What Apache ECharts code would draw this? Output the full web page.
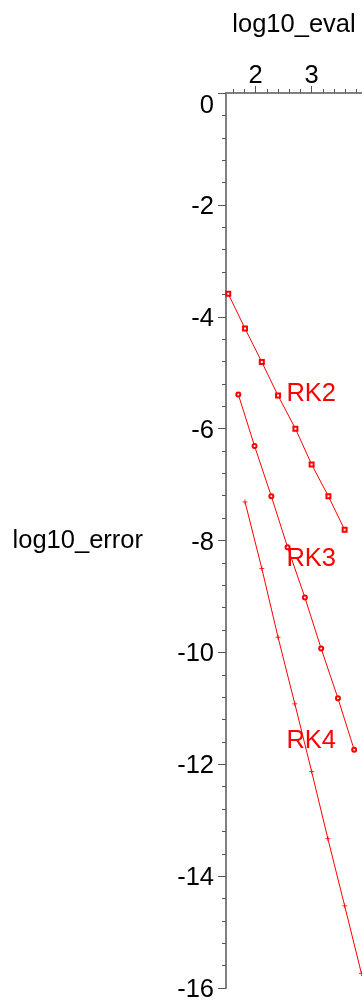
<!DOCTYPE html>
<html>
<head>
<meta charset="utf-8">
<style>
  html, body { margin: 0; padding: 0; background: #fff; }
  #chart { width: 362px; height: 1003px; }
</style>
<script src="https://cdn.jsdelivr.net/npm/echarts@6/dist/echarts.min.js"></script>
</head>
<body>
<div id="chart"></div>
<script>
// log10 of function evaluations vs log10 of error, one series per method
const rk2Eval = [1.51, 1.81, 2.11, 2.40, 2.71, 3.00, 3.30, 3.59]
const rk2Error = [-3.59, -4.21, -4.81, -5.41, -6.00, -6.64, -7.21, -7.81]
const rk3Eval = [1.69, 1.98, 2.28, 2.57, 2.88, 3.17, 3.47, 3.76]
const rk3Error = [-5.39, -6.31, -7.21, -8.12, -9.02, -9.93, -10.82, -11.74]
const rk4Eval = [1.81, 2.11, 2.40, 2.70, 3.00, 3.29, 3.59, 3.89]
const rk4Error = [-7.31, -8.50, -9.73, -10.92, -12.13, -13.33, -14.53, -15.74]

const methodNames = ['RK2', 'RK3', 'RK4']
const labelEval = [2.55, 2.55, 2.55]
const labelError = [-5.38, -8.33, -11.58]

const xMajorTicks = [2, 3]
const xMinorTicks = [1.6, 1.8, 2.2, 2.4, 2.6, 2.8, 3.2, 3.4, 3.6, 3.8]

const FONT = "'Liberation Sans', Arial, sans-serif"
const RED = '#ff0000'
const AXIS_GREY = '#808080'

const pairs = (xs, ys) => xs.map((x, i) => [x, ys[i]])
const crossPath = 'path://M0,5L10,5M5,0L5,10'

const lineSeries = (name, xs, ys, symbol, size) => ({
  name,
  type: 'line',
  data: pairs(xs, ys),
  symbol,
  symbolSize: size,
  showAllSymbol: true,
  lineStyle: { color: RED, width: 1 },
  itemStyle: { color: RED, borderColor: RED, borderWidth: 0.8 },
  emphasis: { disabled: true }
})

const chart = echarts.init(document.getElementById('chart'))
chart.setOption({
  animation: false,
  textStyle: { fontFamily: FONT },
  grid: { left: 226, top: 93, width: 137.7, height: 900 },
  xAxis: [
    {
      type: 'value',
      position: 'top',
      min: 1.47,
      max: 3.9,
      name: 'log10_eval',
      nameLocation: 'middle',
      nameGap: 55,
      nameTextStyle: { color: '#000', fontSize: 25.5, fontFamily: FONT },
      axisLine: { show: true, lineStyle: { color: AXIS_GREY, width: 2 } },
      axisTick: { customValues: xMajorTicks, length: 7, lineStyle: { color: '#555', width: 1 } },
      axisLabel: { customValues: xMajorTicks, color: '#000', fontSize: 25.5, margin: 4 },
      splitLine: { show: false }
    },
    {
      type: 'value',
      position: 'top',
      min: 1.47,
      max: 3.9,
      axisLine: { show: false },
      axisTick: { customValues: xMinorTicks, length: 4, lineStyle: { color: '#555', width: 1 } },
      axisLabel: { show: false },
      splitLine: { show: false }
    }
  ],
  yAxis: {
    type: 'value',
    min: -16,
    max: 0,
    interval: 2,
    name: 'log10_error',
    nameLocation: 'middle',
    nameRotate: 0,
    nameGap: 83,
    nameTextStyle: { color: '#000', fontSize: 25.5, fontFamily: FONT, padding: [10, 0, 0, 0] },
    axisLine: { show: true, lineStyle: { color: AXIS_GREY, width: 2 } },
    axisTick: { show: true, length: 8, lineStyle: { color: '#555', width: 1 } },
    minorTick: { show: true, splitNumber: 5, length: 4, lineStyle: { color: '#555', width: 1 } },
    axisLabel: {
      color: '#000',
      fontSize: 25.5,
      margin: 12,
      formatter: v => (v === 0 ? '{z|0}' : '{n|' + v + '}'),
      rich: {
        z: { fontSize: 25.5, padding: [26, 0, 0, 0] },
        n: { fontSize: 25.5, padding: [4, 0, 0, 0] }
      }
    },
    splitLine: { show: false }
  },
  series: [
    lineSeries('RK2', rk2Eval, rk2Error, 'emptyRect', 4),
    lineSeries('RK3', rk3Eval, rk3Error, 'emptyCircle', 4),
    lineSeries('RK4', rk4Eval, rk4Error, crossPath, 5),
    {
      type: 'scatter',
      data: methodNames.map((n, i) => ({ name: n, value: [labelEval[i], labelError[i]] })),
      symbolSize: 0,
      silent: true,
      itemStyle: { opacity: 1, color: RED },
      label: {
        show: true,
        position: 'right',
        distance: 0,
        formatter: p => p.name,
        color: RED,
        opacity: 1,
        fontSize: 25.5,
        fontFamily: FONT
      }
    }
  ]
})
</script>
</body>
</html>
